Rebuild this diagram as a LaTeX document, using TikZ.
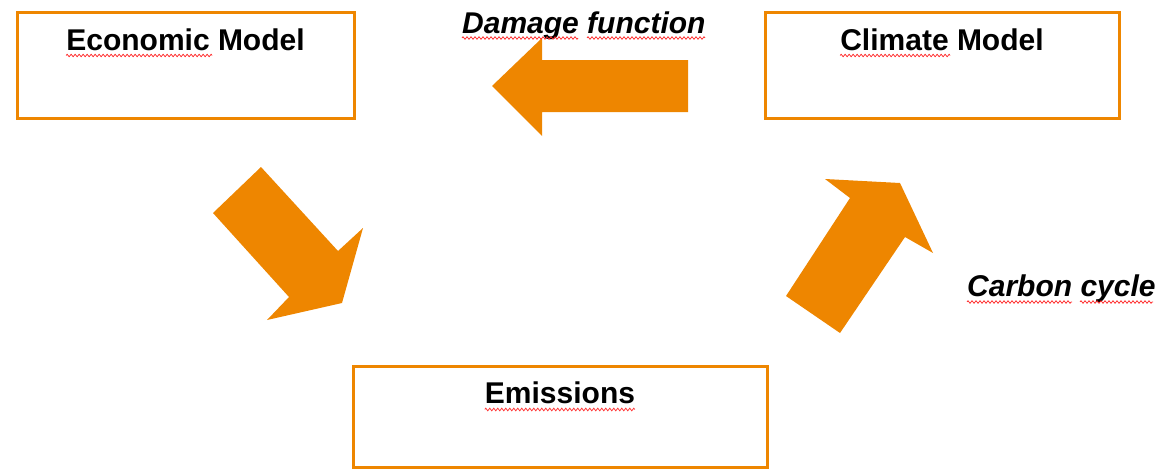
\documentclass[tikz,border=0pt]{standalone}
\usepackage{fontspec}
\setmainfont{Liberation Sans}
\usetikzlibrary{positioning,decorations.pathmorphing}
\definecolor{modelorange}{HTML}{EE8600}

\begin{document}
\begin{tikzpicture}[
        x=1pt, y=-1pt,
        % define styles
        modelbox/.style={
            draw=modelorange,
            line width=3pt,
            fill=white,
            inner sep=0pt
        },
        title/.style={
            font=\fontsize{30}{36}\selectfont\bfseries,
            inner sep=0pt,
            anchor=base
        },
        flowlabel/.style={
            font=\fontsize{30}{36}\selectfont\bfseries\itshape,
            inner sep=0pt,
            anchor=base west
        },
        bigarrow/.style={
            fill=modelorange,
            draw=none
        },
        squiggle/.style={
            draw=red!85,
            line width=0.7pt,
            decorate,
            decoration={zigzag, amplitude=1.3pt, segment length=4pt}
        }
    ]
    \useasboundingbox (0,0) rectangle (1158,469);

    % boxes of the three models
    \node[modelbox, minimum width=337pt, minimum height=106pt] (econbox) at (185.5,65) {};
    \node[modelbox, minimum width=354pt, minimum height=106pt] (climbox) at (942,65) {};
    \node[modelbox, minimum width=414pt, minimum height=101pt] (emisbox) at (560,416.5) {};

    % box headings
    \node[title] (econ) at ([yshift=-40pt]econbox.north) {Economic Model};
    \node[title] (clim) at ([yshift=-40pt]climbox.north) {Climate Model};
    \node[title] (emis) at ([yshift=-39pt]emisbox.north) {Emissions};

    % labels on the flows
    \node[flowlabel] (damage) at (462,33) {Damage function};
    \node[flowlabel] (carbon) at (967,296) {Carbon cycle};

    % block arrows
    \fill[bigarrow] (688,60) -- (542,60) -- (542,38) -- (492,86)
        -- (542,136) -- (542,112) -- (688,112) -- cycle;
    \fill[bigarrow] (213,213) -- (261,167) -- (338,251) -- (363,228)
        -- (342,303) -- (267,320) -- (289,297) -- cycle;
    \fill[bigarrow] (786,296) -- (850,198) -- (825,179) -- (900,183)
        -- (933,253) -- (905,237) -- (840,333) -- cycle;

    % spelling marks under the words
    \draw[squiggle] ([yshift=-5pt]econ.base west) -- ++(146,0);
    \draw[squiggle] ([yshift=-5pt]clim.base west) -- ++(110,0);
    \draw[squiggle] ([yshift=-6pt]emis.base west) -- ++(150,0);
    \draw[squiggle] ([yshift=-5pt]damage.base west) -- ++(116,0);
    \draw[squiggle] ([xshift=125pt,yshift=-5pt]damage.base west) -- ++(118,0);
    \draw[squiggle] ([yshift=-6pt]carbon.base west) -- ++(105,0);
    \draw[squiggle] ([xshift=113pt,yshift=-6pt]carbon.base west) -- ++(73,0);

\end{tikzpicture}
\end{document}
